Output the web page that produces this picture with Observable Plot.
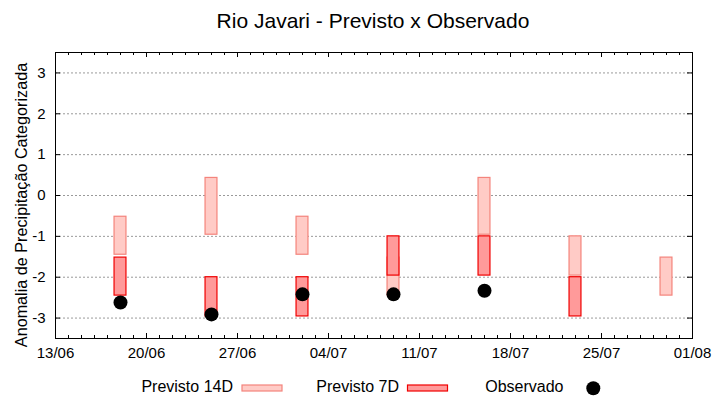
<!DOCTYPE html>
<html>
<head>
<meta charset="utf-8">
<script src="https://cdn.jsdelivr.net/npm/d3@7"></script>
<script src="https://cdn.jsdelivr.net/npm/@observablehq/plot@0.6"></script>
<style>
  html, body { margin: 0; padding: 0; background: #fff; }
  #wrap { position: relative; width: 720px; height: 400px; font-family: "Liberation Sans", Arial, sans-serif; }
  #overlay { position: absolute; left: 0; top: 0; pointer-events: none; }
</style>
</head>
<body>
<div id="wrap"></div>
<script>
// ---- Data ----
const titleText = "Rio Javari - Previsto x Observado";
const yLabel = "Anomalia de Precipitação Categorizada";

const dates14 = ["2024-06-18", "2024-06-25", "2024-07-02", "2024-07-09", "2024-07-16", "2024-07-23", "2024-07-30"];
const lo14 = [-1.45, -0.96, -1.45, -2.45, -0.96, -1.96, -2.45];
const hi14 = [-0.52, 0.43, -0.52, -1.52, 0.43, -1.0, -1.52];

const dates7 = ["2024-06-18", "2024-06-25", "2024-07-02", "2024-07-09", "2024-07-16", "2024-07-23"];
const lo7 = [-2.45, -2.96, -2.96, -1.96, -1.96, -2.96];
const hi7 = [-1.52, -2.0, -2.0, -1.0, -1.0, -2.0];

const datesObs = ["2024-06-18", "2024-06-25", "2024-07-02", "2024-07-09", "2024-07-16"];
const obsValues = [-2.62, -2.91, -2.42, -2.42, -2.33];

const xTickDates = ["2024-06-13", "2024-06-20", "2024-06-27", "2024-07-04", "2024-07-11", "2024-07-18", "2024-07-25", "2024-08-01"];
const xTickLabels = ["13/06", "20/06", "27/06", "04/07", "11/07", "18/07", "25/07", "01/08"];
const yTicks = [-3, -2, -1, 0, 1, 2, 3];
const yTickLabels = ["-3", "-2", "-1", "0", "1", "2", "3"];

const legendLabels = ["Previsto 14D", "Previsto 7D", "Observado"];

// ---- Styles ----
const fill14 = "#ffcbc6", stroke14 = "#f4847c";
const fill7 = "#ff9a9a", stroke7 = "#f00000";

// ---- Build tables ----
const parse = d3.utcParse("%Y-%m-%d");
const t14 = dates14.map((d, i) => ({date: parse(d), lo: lo14[i], hi: hi14[i]}));
const t7 = dates7.map((d, i) => ({date: parse(d), lo: lo7[i], hi: hi7[i]}));
const tObs = datesObs.map((d, i) => ({date: parse(d), v: obsValues[i]}));
const xTicks = xTickDates.map(parse);
const xStart = xTicks[0], xEnd = xTicks[xTicks.length - 1];
const minorDays = d3.utcDay.range(xStart, d3.utcDay.offset(xEnd, 1));

const W = 720, H = 400, mT = 52, mB = 62, mL = 55, mR = 28;
const frameW = W - mL - mR, frameH = H - mT - mB;
const halfW = 11; // hours each side of center

const plot = Plot.plot({
  width: W, height: H,
  marginTop: mT, marginBottom: mB, marginLeft: mL, marginRight: mR,
  style: {fontFamily: "'Liberation Sans', Arial, sans-serif", fontSize: "15px", color: "#000", background: "#fff"},
  x: {type: "utc", domain: [xStart, xEnd]},
  y: {domain: [-3.5, 3.5]},
  marks: [
    Plot.gridY(yTicks, {stroke: "#9a9a9a", strokeOpacity: 1, strokeDasharray: "2,2"}),
    Plot.rect(t14, {x1: d => d3.utcHour.offset(d.date, -halfW), x2: d => d3.utcHour.offset(d.date, halfW), y1: "lo", y2: "hi", fill: fill14, stroke: stroke14, strokeWidth: 1.2}),
    Plot.rect(t7, {x1: d => d3.utcHour.offset(d.date, -halfW), x2: d => d3.utcHour.offset(d.date, halfW), y1: "lo", y2: "hi", fill: fill7, stroke: stroke7, strokeWidth: 1.2}),
    Plot.dot(tObs, {x: "date", y: "v", r: 7, fill: "#000", stroke: "none"}),
    // inward ticks, bottom & top (minor daily, major weekly)
    Plot.ruleX(minorDays, {stroke: "#000", insetTop: frameH - 3}),
    Plot.ruleX(minorDays, {stroke: "#000", insetBottom: frameH - 3}),
    Plot.ruleX(xTicks, {stroke: "#000", insetTop: frameH - 5}),
    Plot.ruleX(xTicks, {stroke: "#000", insetBottom: frameH - 5}),
    // inward ticks, left & right
    Plot.ruleY(yTicks, {stroke: "#000", insetRight: frameW - 5}),
    Plot.ruleY(yTicks, {stroke: "#000", insetLeft: frameW - 5}),
    Plot.axisX(xTicks, {tickSize: 0, tickPadding: 9, label: null, fontSize: 15,
      tickFormat: d => xTickLabels[xTicks.findIndex(t => +t === +d)]}),
    Plot.axisY(yTicks, {tickSize: 0, tickPadding: 10, label: null, fontSize: 15,
      tickFormat: d => yTickLabels[yTicks.indexOf(d)]}),
    Plot.frame({stroke: "#000", strokeWidth: 1})
  ]
});

const wrap = document.getElementById("wrap");
wrap.appendChild(plot);

// ---- Overlay: title, y label, legend ----
const svg = d3.select(wrap).append("svg")
  .attr("id", "overlay").attr("width", W).attr("height", H)
  .style("font-family", "'Liberation Sans', Arial, sans-serif");

svg.append("text").attr("x", 373).attr("y", 27.5).attr("text-anchor", "middle")
  .attr("font-size", 21).attr("fill", "#000").text(titleText);

svg.append("text").attr("transform", "translate(26.5,205) rotate(-90)")
  .attr("text-anchor", "middle").attr("font-size", 16.2).attr("fill", "#000").text(yLabel);

const lg = svg.append("g").attr("font-size", 16).attr("fill", "#000");
lg.append("text").attr("x", 233).attr("y", 392).attr("text-anchor", "end").text(legendLabels[0]);
lg.append("rect").attr("x", 242).attr("y", 385).attr("width", 40).attr("height", 6)
  .attr("fill", fill14).attr("stroke", stroke14).attr("stroke-width", 1.2);
lg.append("text").attr("x", 399).attr("y", 392).attr("text-anchor", "end").text(legendLabels[1]);
lg.append("rect").attr("x", 407.5).attr("y", 385).attr("width", 40).attr("height", 6)
  .attr("fill", fill7).attr("stroke", stroke7).attr("stroke-width", 1.2);
lg.append("text").attr("x", 563.5).attr("y", 392).attr("text-anchor", "end").text(legendLabels[2]);
lg.append("circle").attr("cx", 593.3).attr("cy", 388.3).attr("r", 7).attr("fill", "#000");
</script>
</body>
</html>
